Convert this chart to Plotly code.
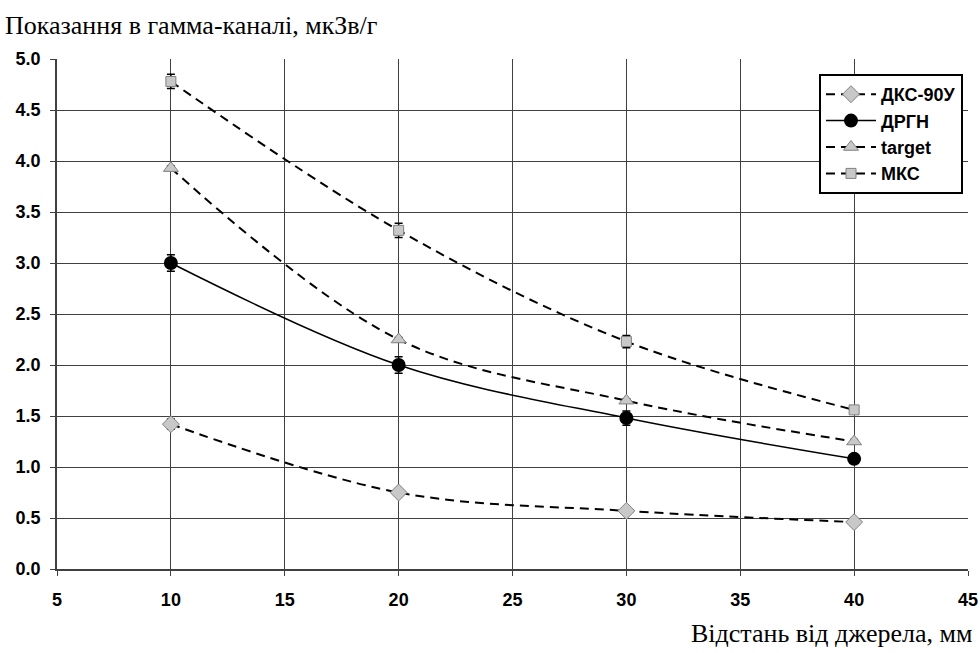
import plotly.graph_objects as go

x_vals = [10, 20, 30, 40]
dks = [1.42, 0.75, 0.57, 0.46]
dks_err = [0.05, 0.02, 0.02, 0.02]
drgn = [3.0, 2.0, 1.48, 1.08]
drgn_err = [0.08, 0.08, 0.07, 0.02]
target = [3.93, 2.25, 1.65, 1.25]
target_err = [0.02, 0.02, 0.02, 0.02]
mks = [4.78, 3.32, 2.23, 1.56]
mks_err = [0.07, 0.07, 0.06, 0.03]

names = ["ДКС-90У", "ДРГН", "target", "МКС"]
x_ticks = [5, 10, 15, 20, 25, 30, 35, 40, 45]
y_ticks = [0.0, 0.5, 1.0, 1.5, 2.0, 2.5, 3.0, 3.5, 4.0, 4.5, 5.0]

fig = go.Figure()

def err(arr):
    return dict(type="data", array=arr, visible=True, color="black", thickness=1.5, width=4)

gray_fill = "#c8c8c8"
gray_line = "#808080"
dash_style = "9px,6px"

fig.add_trace(go.Scatter(x=x_vals, y=dks, name=names[0], mode="lines+markers",
                         line=dict(color="black", width=2, dash=dash_style, shape="spline"),
                         marker=dict(symbol="diamond", size=13, color=gray_fill, line=dict(color=gray_line, width=1)),
                         error_y=err(dks_err)))
fig.add_trace(go.Scatter(x=x_vals, y=drgn, name=names[1], mode="lines+markers",
                         line=dict(color="black", width=1.5, shape="spline"),
                         marker=dict(symbol="circle", size=14, color="black"),
                         error_y=err(drgn_err)))
fig.add_trace(go.Scatter(x=x_vals, y=target, name=names[2], mode="lines+markers",
                         line=dict(color="black", width=2, dash=dash_style, shape="spline"),
                         marker=dict(symbol="triangle-up", size=13, color=gray_fill, line=dict(color=gray_line, width=1)),
                         error_y=err(target_err)))
fig.add_trace(go.Scatter(x=x_vals, y=mks, name=names[3], mode="lines+markers",
                         line=dict(color="black", width=2, dash=dash_style, shape="spline"),
                         marker=dict(symbol="square", size=10, color=gray_fill, line=dict(color=gray_line, width=1)),
                         error_y=err(mks_err)))

tick_font = dict(family="Liberation Sans, Arial", size=18, color="black", weight="bold")

fig.update_layout(
    width=980, height=653,
    margin=dict(l=57, r=12, t=59, b=84),
    paper_bgcolor="white", plot_bgcolor="white",
    showlegend=True,
    legend=dict(x=0.9945, y=0.9706, xanchor="right", yanchor="top",
                bgcolor="white", bordercolor="black", borderwidth=2,
                font=dict(family="Liberation Sans, Arial", size=18, color="black", weight="bold"),
                tracegroupgap=0, itemwidth=50),
    xaxis=dict(range=[5, 45], tickvals=x_ticks, ticktext=[str(v) for v in x_ticks],
               showgrid=True, gridcolor="#404040", gridwidth=1,
               showline=True, linecolor="#404040", linewidth=1.5,
               ticks="outside", ticklen=5, tickcolor="#404040",
               ticklabelstandoff=9,
               tickfont=tick_font, zeroline=False, automargin=False),
    yaxis=dict(range=[0, 5], tickvals=y_ticks, ticktext=[f"{v:.1f}" for v in y_ticks],
               showgrid=True, gridcolor="#404040", gridwidth=1,
               showline=True, linecolor="#404040", linewidth=1.5,
               ticks="outside", ticklen=5, tickcolor="#404040",
               ticklabelstandoff=6,
               tickfont=tick_font, zeroline=False, automargin=False),
    annotations=[
        dict(text="Показання в гамма-каналі, мкЗв/г", xref="paper", yref="paper",
             x=-0.0593, y=1.0, xanchor="left", yanchor="middle", yshift=34, showarrow=False,
             font=dict(family="Liberation Serif, Times New Roman", size=26, color="black")),
        dict(text="Відстань від джерела, мм", xref="paper", yref="paper",
             x=1.0066, y=0.0, xanchor="right", yanchor="middle", yshift=-64, showarrow=False,
             font=dict(family="Liberation Serif, Times New Roman", size=26, color="black")),
    ],
)

# remove the browser's default body margin so the 980x653 figure fills the window exactly
fig.write_html("out.html", config={"displayModeBar": False},
               post_script="document.body.style.margin='0px';document.body.style.overflow='hidden';")
